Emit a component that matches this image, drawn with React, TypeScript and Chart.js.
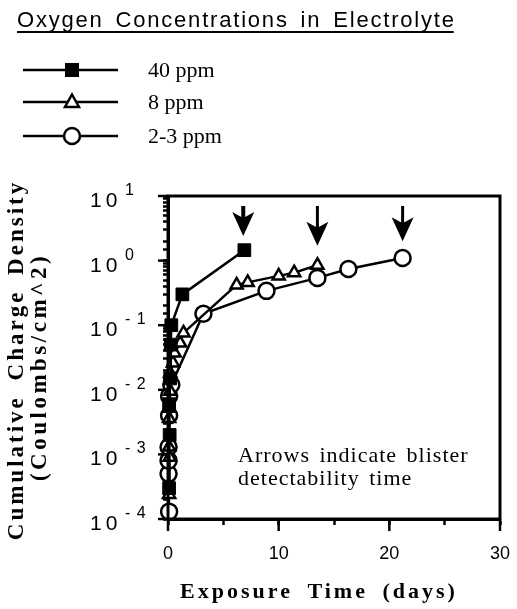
import React, { useEffect, useRef } from 'react';
import { Chart, registerables } from 'chart.js';

Chart.register(...registerables);

// ---------- data ----------
const chartTitle = 'Oxygen Concentrations in Electrolyte';
const seriesNames = ['40 ppm', '8 ppm', '2-3 ppm'];

const days40 = [0.1, 0.15, 0.1, 0.2, 0.25, 0.3, 1.3, 6.9];
const charge40 = [0.0003, 0.002, 0.006, 0.015, 0.05, 0.1, 0.3, 1.45];

const days8 = [0.1, 0.15, 0.1, 0.1, 0.1, 0.2, 0.2, 0.45, 0.6, 1.1, 1.4, 6.2, 7.2, 10.0, 11.4, 13.5];
const charge8 = [0.00024, 0.0009, 0.0013, 0.0036, 0.0052, 0.0095, 0.018, 0.026, 0.037, 0.053, 0.076, 0.42, 0.46, 0.58, 0.65, 0.85];

const days23 = [0.1, 0.05, 0.05, 0.05, 0.1, 0.1, 0.3, 3.2, 8.9, 13.5, 16.3, 21.2];
const charge23 = [0.00013, 0.0005, 0.0008, 0.0013, 0.004, 0.008, 0.012, 0.15, 0.34, 0.54, 0.74, 1.1];

const xMin = 0;
const xMax = 30;
const xStep = 5;
const xLabelledTicks = [0, 10, 20, 30];
const yMin = 0.0001;
const yMax = 10;
const yDecadeExponents = ['- 4', '- 3', '- 2', '- 1', '0', '1'];

const arrowDays = [6.8, 13.5, 21.2];
const arrowTipValues = [2.4, 1.7, 2.0];
const arrowTailValue = 7;

const noteLines = ['Arrows indicate blister', 'detectability time'];
const xTitle = 'Exposure Time (days)';
const yTitleLines = ['Cumulative Charge Density', '(Coulombs/cm^2)'];

// ---------- helpers ----------
function drawText(
  ctx: CanvasRenderingContext2D,
  s: string,
  x: number,
  y: number,
  font: string,
  align: CanvasTextAlign,
  baseline: CanvasTextBaseline,
  ls = '0px',
  ws = '0px'
): number {
  ctx.save();
  ctx.font = font;
  (ctx as any).letterSpacing = ls;
  (ctx as any).wordSpacing = ws;
  ctx.textAlign = align;
  ctx.textBaseline = baseline;
  ctx.fillStyle = '#000';
  ctx.fillText(s, x, y);
  const w = ctx.measureText(s).width;
  ctx.restore();
  return w;
}

function drawMarker(ctx: CanvasRenderingContext2D, kind: number, x: number, y: number) {
  ctx.save();
  ctx.lineWidth = 2.5;
  ctx.strokeStyle = '#000';
  if (kind === 0) {
    ctx.fillStyle = '#000';
    ctx.fillRect(x - 7, y - 7, 14, 14);
  } else if (kind === 1) {
    ctx.fillStyle = '#fff';
    ctx.beginPath();
    ctx.moveTo(x, y - 7.5);
    ctx.lineTo(x + 7, y + 5);
    ctx.lineTo(x - 7, y + 5);
    ctx.closePath();
    ctx.fill();
    ctx.stroke();
  } else {
    ctx.fillStyle = '#fff';
    ctx.beginPath();
    ctx.arc(x, y, 8, 0, Math.PI * 2);
    ctx.fill();
    ctx.stroke();
  }
  ctx.restore();
}

const decorPlugin = {
  id: 'decor',
  beforeDraw(chart: any) {
    const ctx = chart.ctx as CanvasRenderingContext2D;
    ctx.save();
    ctx.fillStyle = '#fff';
    ctx.fillRect(0, 0, chart.width, chart.height);
    ctx.restore();
  },
  afterDraw(chart: any) {
    const ctx = chart.ctx as CanvasRenderingContext2D;
    const area = chart.chartArea;
    const xs = chart.scales.x;
    const ys = chart.scales.y;

    // frame
    ctx.save();
    ctx.strokeStyle = '#000';
    ctx.lineWidth = 3;
    ctx.strokeRect(area.left, area.top, area.right - area.left, area.bottom - area.top);
    ctx.restore();

    // longer major ticks
    ctx.save();
    ctx.strokeStyle = '#000';
    ctx.lineWidth = 2.5;
    ys.ticks.forEach((t: any) => {
      const e = Math.log10(t.value);
      if (Math.abs(e - Math.round(e)) < 1e-9) {
        const py = ys.getPixelForValue(t.value);
        ctx.beginPath();
        ctx.moveTo(area.left, py);
        ctx.lineTo(area.left - 10, py);
        ctx.stroke();
      }
    });
    xs.ticks.forEach((t: any) => {
      if (xLabelledTicks.includes(t.value)) {
        const px = xs.getPixelForValue(t.value);
        ctx.beginPath();
        ctx.moveTo(px, area.bottom);
        ctx.lineTo(px, area.bottom + 12);
        ctx.stroke();
      }
    });
    ctx.restore();

    // y tick labels (10 with superscript exponent)
    ys.ticks.forEach((t: any) => {
      const e = Math.log10(t.value);
      const r = Math.round(e);
      if (Math.abs(e - r) < 1e-9) {
        const py = ys.getPixelForValue(t.value);
        const idx = r + 4;
        drawText(ctx, '10', 90, py + 11, '21px "Liberation Sans"', 'left', 'alphabetic', '4px');
        drawText(ctx, yDecadeExponents[idx], 125, py - 1, '16px "Liberation Sans"', 'left', 'alphabetic', '1px');
      }
    });

    // title with underline
    const tw = drawText(ctx, chartTitle, 17, 27, '22px "Liberation Sans"', 'left', 'alphabetic', '1.8px', '4px');
    ctx.save();
    ctx.fillStyle = '#000';
    ctx.fillRect(17, 31, Math.max(10, tw - 2), 2);
    ctx.restore();

    // legend
    const legendY = [70, 102, 136];
    seriesNames.forEach((name, i) => {
      const y = legendY[i];
      ctx.save();
      ctx.strokeStyle = '#000';
      ctx.lineWidth = 2.5;
      ctx.beginPath();
      ctx.moveTo(23, y);
      ctx.lineTo(118, y);
      ctx.stroke();
      ctx.restore();
      drawMarker(ctx, i, 72, y);
      drawText(ctx, name, 148, y + 1, '22px "Liberation Serif"', 'left', 'middle');
    });

    // axis titles
    drawText(ctx, xTitle, 319, 598, 'bold 22px "Liberation Serif"', 'center', 'alphabetic', '3px', '6px');
    ctx.save();
    ctx.translate(0, 360);
    ctx.rotate(-Math.PI / 2);
    drawText(ctx, yTitleLines[0], 0, 23, 'bold 23px "Liberation Serif"', 'center', 'alphabetic', '3px', '6px');
    drawText(ctx, yTitleLines[1], -7, 46, 'bold 23px "Liberation Serif"', 'center', 'alphabetic', '3.5px');
    ctx.restore();

    // note
    drawText(ctx, noteLines[0], 238, 462, '22px "Liberation Serif"', 'left', 'alphabetic', '1px', '3px');
    drawText(ctx, noteLines[1], 238, 485, '22px "Liberation Serif"', 'left', 'alphabetic', '1px', '3px');

    // arrows
    arrowDays.forEach((d, i) => {
      const px = xs.getPixelForValue(d);
      const tip = ys.getPixelForValue(arrowTipValues[i]);
      const tail = ys.getPixelForValue(arrowTailValue);
      ctx.save();
      ctx.strokeStyle = '#000';
      ctx.fillStyle = '#000';
      ctx.lineWidth = i === 0 ? 4 : 3;
      ctx.beginPath();
      ctx.moveTo(px, tail);
      ctx.lineTo(px, tip - 12);
      ctx.stroke();
      ctx.beginPath();
      ctx.moveTo(px, tip);
      ctx.lineTo(px - 11, tip - 24);
      ctx.lineTo(px, tip - 18);
      ctx.lineTo(px + 11, tip - 24);
      ctx.closePath();
      ctx.fill();
      ctx.restore();
    });
  },
};

function toPoints(xs: number[], ys: number[]) {
  return xs.map((x, i) => ({ x, y: ys[i] }));
}

export default function App() {
  const canvasRef = useRef<HTMLCanvasElement | null>(null);

  useEffect(() => {
    const canvas = canvasRef.current;
    if (!canvas) return;
    const chart = new Chart(canvas, {
      type: 'line',
      data: {
        datasets: [
          {
            label: seriesNames[0],
            data: toPoints(days40, charge40),
            borderColor: '#000',
            backgroundColor: '#000',
            borderWidth: 2.5,
            pointStyle: 'rect',
            pointRadius: 9,
            pointBorderWidth: 1,
            pointBorderColor: '#000',
            pointBackgroundColor: '#000',
            clip: false,
          },
          {
            label: seriesNames[1],
            data: toPoints(days8, charge8),
            borderColor: '#000',
            borderWidth: 2.5,
            pointStyle: 'triangle',
            pointRadius: 7,
            pointBorderWidth: 2.5,
            pointBorderColor: '#000',
            pointBackgroundColor: '#fff',
            clip: false,
          },
          {
            label: seriesNames[2],
            data: toPoints(days23, charge23),
            borderColor: '#000',
            borderWidth: 2.5,
            pointStyle: 'circle',
            pointRadius: 8,
            pointBorderWidth: 2.5,
            pointBorderColor: '#000',
            pointBackgroundColor: '#fff',
            clip: false,
          },
        ],
      },
      options: {
        animation: false,
        responsive: false,
        devicePixelRatio: 1,
        layout: { padding: { left: 0, top: 196, right: 17, bottom: 0 } },
        plugins: {
          legend: { display: false },
          title: { display: false },
          tooltip: { enabled: false },
        },
        scales: {
          x: {
            type: 'linear',
            min: xMin,
            max: xMax,
            afterFit: (s: any) => {
              s.height = 90;
              s.paddingLeft = 0;
              s.paddingRight = 0;
            },
            ticks: {
              stepSize: xStep,
              autoSkip: false,
              maxRotation: 0,
              padding: 18,
              color: '#000',
              font: { family: '"Liberation Sans"', size: 18 },
              callback: (v: any) => (xLabelledTicks.includes(Number(v)) ? String(v) : ''),
            },
            grid: {
              drawOnChartArea: false,
              drawTicks: true,
              tickLength: 6,
              tickColor: '#000',
              tickWidth: 2.5,
            },
            border: { display: true, color: '#000', width: 3 },
          },
          y: {
            type: 'logarithmic',
            min: yMin,
            max: yMax,
            afterFit: (s: any) => {
              s.width = 168;
              s.paddingTop = 0;
              s.paddingBottom = 0;
            },
            ticks: { display: false, autoSkip: false },
            grid: {
              drawOnChartArea: false,
              drawTicks: true,
              tickLength: 5,
              tickColor: '#000',
              tickWidth: 2.5,
            },
            border: { display: true, color: '#000', width: 3 },
          },
        },
      },
      plugins: [decorPlugin],
    });
    return () => chart.destroy();
  }, []);

  return (
    <div style={{ position: 'fixed', left: 0, top: 0, width: 517, height: 609, background: '#fff' }}>
      <canvas ref={canvasRef} width={517} height={609} style={{ width: 517, height: 609, display: 'block' }} />
    </div>
  );
}
